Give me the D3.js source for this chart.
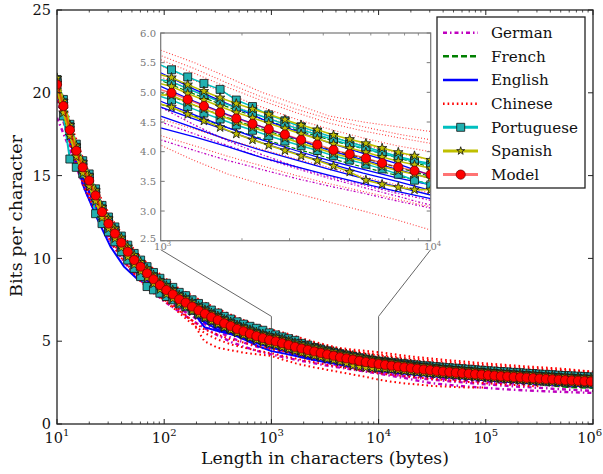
<!DOCTYPE html>
<html><head><meta charset="utf-8">
<script src="https://cdn.jsdelivr.net/npm/d3@7"></script>
<style>body{margin:0;background:#fff}svg{display:block}text{font-family:"DejaVu Serif",serif}</style>
</head><body><svg id="c" width="603" height="474"></svg>
<script>
// ---------------- DATA ----------------
const markerExp = [1.00,1.06,1.12,1.18,1.24,1.30,1.36,1.42,1.48,1.54,1.60,1.66,1.72,1.78,1.84,1.90,1.96,2.02,2.08,2.14,2.20,2.26,2.32,2.38,2.44,2.50,2.56,2.62,2.68,2.74,2.80,2.86,2.92,2.98,3.04,3.10,3.16,3.22,3.28,3.34,3.40,3.46,3.52,3.58,3.64,3.70,3.76,3.82,3.88,3.94,4.00,4.06,4.12,4.18,4.24,4.30,4.36,4.42,4.48,4.54,4.60,4.66,4.72,4.78,4.84,4.90,4.96,5.02,5.08,5.14,5.20,5.26,5.32,5.38,5.44,5.50,5.56,5.62,5.68,5.74,5.80,5.86,5.92,5.98];
const lineExp = [1,1.125,1.25,1.375,1.5,1.625,1.75,1.875,2,2.125,2.25,2.375,2.5,2.625,2.75,2.875,3,3.125,3.25,3.375,3.5,3.625,3.75,3.875,4,4.125,4.25,4.375,4.5,4.625,4.75,4.875,5,5.125,5.25,5.375,5.5,5.625,5.75,5.875,6];

const model = [20.5,19.2,17.75,16.5,15.5,14.7,13.8,12.8,12.1,11.5,10.95,10.4,9.9,9.5,9.1,8.74,8.39,8.09,7.83,7.53,7.33,7.09,6.86,6.66,6.46,6.28,6.08,5.92,5.74,5.6,5.45,5.31,5.19,5.07,4.99,4.88,4.77,4.66,4.56,4.47,4.38,4.29,4.2,4.12,4.03,3.96,3.89,3.81,3.74,3.68,3.62,3.57,3.52,3.47,3.42,3.38,3.33,3.29,3.25,3.21,3.17,3.14,3.1,3.07,3.04,3.01,2.98,2.95,2.92,2.89,2.87,2.84,2.82,2.79,2.77,2.74,2.72,2.7,2.67,2.65,2.63,2.61,2.59,2.57];

const portuguese = [
[20.8,19.6,18.1,16.9,15.9,15.1,14.2,13.2,12.5,11.9,11.35,10.8,10.3,9.9,9.5,9.15,8.8,8.5,8.25,7.95,7.75,7.5,7.28,7.08,6.88,6.7,6.5,6.34,6.17,6.03,5.9,5.78,5.66,5.5,5.38,5.26,5.15,5.05,4.87,4.76,4.62,4.52,4.42,4.33,4.24,4.16,4.08,4.0,3.92,3.85,3.8,3.76,3.72,3.68,3.64,3.6,3.56,3.52,3.5,3.46,3.43,3.4,3.37,3.34,3.31,3.28,3.25,3.22,3.2,3.17,3.15,3.12,3.1,3.07,3.05,3.02,3.0,2.98,2.95,2.93,2.91,2.89,2.87,2.85],
[20.7,19.4,17.95,16.7,15.7,14.9,14.0,13.0,12.3,11.7,11.1,10.55,10.05,9.65,9.25,8.9,8.55,8.25,8.0,7.7,7.5,7.25,7.02,6.82,6.62,6.44,6.24,6.08,5.9,5.76,5.61,5.47,5.35,5.23,5.18,5.06,4.95,4.84,4.74,4.65,4.56,4.46,4.37,4.29,4.2,4.12,4.05,3.97,3.9,3.84,3.77,3.71,3.66,3.61,3.56,3.51,3.46,3.42,3.38,3.34,3.3,3.27,3.23,3.2,3.17,3.14,3.11,3.08,3.05,3.02,3.0,2.97,2.95,2.92,2.9,2.87,2.85,2.83,2.8,2.78,2.76,2.74,2.72,2.7],
[20.6,18.6,16.0,15.5,15.1,14.6,12.7,12.1,11.6,11.0,10.4,9.9,9.4,8.9,8.3,8.1,7.9,7.7,7.5,7.25,7.08,6.86,6.65,6.46,6.27,6.1,5.91,5.76,5.59,5.46,5.32,5.19,5.08,4.96,4.87,4.76,4.65,4.55,4.45,4.36,4.27,4.18,4.1,4.02,3.93,3.86,3.79,3.71,3.62,3.52,3.44,3.42,3.38,3.34,3.3,3.26,3.22,3.18,3.15,3.11,3.08,3.05,3.02,2.99,2.96,2.93,2.9,2.88,2.85,2.82,2.8,2.78,2.75,2.73,2.71,2.68,2.66,2.64,2.62,2.6,2.58,2.56,2.54,2.52]
];
const spanish = [
[20.9,19.5,18.05,16.8,15.8,15.0,14.1,13.1,12.4,11.8,11.25,10.7,10.2,9.78,9.38,9.0,8.65,8.35,8.08,7.78,7.58,7.34,7.1,6.9,6.7,6.52,6.32,6.16,5.98,5.84,5.69,5.55,5.43,5.32,5.25,5.13,5.02,4.91,4.81,4.72,4.63,4.54,4.45,4.37,4.28,4.21,4.14,4.06,3.99,3.93,3.86,3.8,3.75,3.7,3.65,3.61,3.56,3.52,3.48,3.44,3.4,3.37,3.33,3.3,3.27,3.24,3.21,3.18,3.15,3.12,3.1,3.07,3.05,3.02,3.0,2.97,2.95,2.93,2.9,2.88,2.86,2.84,2.82,2.8],
[20.6,19.3,17.85,16.6,15.6,14.8,13.9,12.9,12.2,11.6,11.05,10.5,10.0,9.6,9.2,8.84,8.49,8.19,7.93,7.63,7.43,7.19,6.96,6.76,6.56,6.38,6.18,6.02,5.84,5.7,5.55,5.41,5.29,5.17,5.1,4.98,4.87,4.76,4.66,4.57,4.48,4.39,4.3,4.22,4.13,4.06,3.99,3.91,3.84,3.78,3.72,3.67,3.62,3.57,3.52,3.48,3.43,3.39,3.35,3.31,3.27,3.24,3.2,3.17,3.14,3.11,3.08,3.05,3.02,2.99,2.97,2.94,2.92,2.89,2.87,2.84,2.82,2.8,2.77,2.75,2.73,2.71,2.69,2.67],
[20.4,19.0,17.6,16.35,15.35,14.55,13.65,12.65,11.95,11.35,10.8,10.25,9.76,9.36,8.96,8.6,8.26,7.96,7.7,7.4,7.2,6.96,6.74,6.54,6.34,6.16,5.96,5.8,5.62,5.49,5.34,5.2,5.08,4.96,4.95,4.83,4.72,4.61,4.5,4.41,4.32,4.23,4.14,4.06,3.97,3.9,3.83,3.75,3.68,3.62,3.55,3.5,3.45,3.4,3.35,3.31,3.26,3.22,3.18,3.14,3.1,3.07,3.03,3.0,2.97,2.94,2.91,2.88,2.85,2.82,2.8,2.77,2.75,2.72,2.7,2.67,2.65,2.63,2.6,2.58,2.56,2.54,2.52,2.5],
[20.2,18.8,17.4,16.15,15.15,14.35,13.45,12.45,11.8,11.2,10.65,10.1,9.62,9.22,8.82,8.47,8.13,7.83,7.57,7.27,7.07,6.83,6.61,6.41,6.21,6.03,5.83,5.67,5.5,5.36,5.21,5.07,4.95,4.83,4.75,4.63,4.52,4.41,4.3,4.2,4.11,4.02,3.93,3.85,3.76,3.66,3.52,3.45,3.4,3.36,3.36,3.32,3.28,3.24,3.2,3.16,3.12,3.08,3.04,3.01,2.98,2.95,2.92,2.89,2.86,2.83,2.8,2.77,2.74,2.71,2.69,2.66,2.64,2.61,2.59,2.56,2.54,2.52,2.5,2.48,2.46,2.44,2.42,2.4]
];
const english = [
[20.7,17.9,15.6,13.8,12.1,10.9,9.9,9.07,8.38,7.8,7.32,6.88,6.48,6.1,5.78,5.5,5.33,5.05,4.8,4.55,4.35,4.15,3.97,3.8,3.6,3.49,3.38,3.29,3.2,3.12,3.05,2.98,2.91,2.85,2.79,2.73,2.68,2.63,2.58,2.54,2.5],
[20.3,17.3,15.0,13.2,11.6,10.4,9.45,8.65,8.0,7.43,6.97,6.52,6.12,5.76,5.45,5.2,5.1,4.85,4.62,4.42,4.22,4.02,3.86,3.7,3.55,3.44,3.34,3.25,3.16,3.08,3.01,2.94,2.87,2.81,2.75,2.69,2.64,2.59,2.54,2.49,2.45],
[20.4,17.0,14.3,12.4,10.7,9.5,8.75,8.45,7.95,7.35,6.9,6.45,6.05,5.65,5.35,5.05,4.85,4.62,4.4,4.2,4.02,3.85,3.7,3.56,3.44,3.33,3.23,3.14,3.06,2.98,2.91,2.85,2.78,2.72,2.66,2.6,2.55,2.5,2.45,2.4,2.35],
[20.5,17.5,15.2,13.4,11.8,10.55,9.6,8.78,8.1,7.5,6.95,5.85,5.62,5.42,5.2,4.95,4.75,4.55,4.35,4.15,3.97,3.8,3.64,3.5,3.35,3.25,3.16,3.08,3.0,2.93,2.86,2.8,2.74,2.68,2.62,2.57,2.52,2.47,2.42,2.37,2.33],
[20.3,17.2,14.9,13.1,11.5,10.3,9.35,8.6,7.95,7.4,6.85,6.15,5.7,5.45,5.2,4.85,4.6,4.4,4.2,4.02,3.86,3.7,3.55,3.41,3.27,3.17,3.08,3.0,2.92,2.85,2.79,2.73,2.67,2.61,2.55,2.5,2.45,2.4,2.36,2.32,2.28],
[20.1,17.0,14.7,12.9,11.3,10.1,9.2,8.45,7.8,7.25,6.75,6.3,5.85,5.45,5.1,4.7,4.4,4.25,4.08,3.9,3.75,3.6,3.46,3.33,3.21,3.12,3.04,2.96,2.89,2.82,2.76,2.7,2.64,2.58,2.53,2.48,2.43,2.38,2.34,2.3,2.26]
];
const chinese = [
[21.0,18.2,15.9,14.1,12.5,11.3,10.3,9.5,8.85,8.25,7.8,7.35,6.95,6.6,6.25,5.95,5.71,5.5,5.25,5.0,4.8,4.6,4.5,4.42,4.34,4.23,4.12,4.03,3.95,3.87,3.8,3.73,3.66,3.6,3.54,3.48,3.43,3.38,3.32,3.24,3.16],
[20.8,18.0,15.7,13.9,12.3,11.1,10.1,9.3,8.6,8.0,7.55,7.1,6.7,6.35,6.0,5.75,5.62,5.4,5.15,4.92,4.72,4.55,4.42,4.3,4.2,4.1,4.0,3.92,3.84,3.76,3.69,3.62,3.56,3.5,3.44,3.39,3.34,3.29,3.24,3.2,3.16],
[20.9,17.8,15.5,13.7,12.1,10.9,9.95,9.15,8.45,7.85,7.4,6.95,6.55,6.2,5.9,5.68,5.55,5.32,5.08,4.86,4.66,4.48,4.35,4.24,4.14,4.02,3.91,3.81,3.72,3.64,3.56,3.49,3.42,3.36,3.3,3.25,3.2,3.15,3.1,3.05,3.0],
[20.2,17.4,15.2,13.4,11.8,10.6,9.7,8.9,8.3,7.75,7.3,6.85,6.45,6.1,5.8,5.58,5.45,5.2,4.97,4.75,4.55,4.38,4.23,4.1,4.0,3.88,3.78,3.68,3.6,3.52,3.45,3.38,3.32,3.26,3.2,3.15,3.1,3.05,3.0,2.96,2.92],
[20.6,17.6,15.3,13.5,11.9,10.7,9.75,8.95,8.25,7.65,7.15,6.7,6.3,5.95,5.6,5.38,5.26,5.02,4.8,4.6,4.42,4.26,4.11,3.98,3.86,3.75,3.65,3.56,3.47,3.39,3.32,3.25,3.18,3.12,3.06,3.0,2.95,2.9,2.85,2.8,2.76],
[20.0,17.0,14.8,13.0,11.4,10.1,9.1,8.3,7.6,7.0,6.3,5.7,5.4,5.1,4.9,4.7,4.55,4.38,4.2,4.04,3.88,3.73,3.58,3.44,3.3,3.19,3.09,3.0,2.92,2.85,2.78,2.72,2.66,2.6,2.55,2.5,2.46,2.42,2.38,2.34,2.3],
[20.0,16.9,14.6,12.8,11.2,9.9,8.8,8.0,7.5,6.9,6.3,5.0,4.6,4.45,4.3,4.2,4.11,3.85,3.62,3.45,3.3,3.15,3.0,2.85,2.68,2.55,2.45,2.38,2.3,2.26,2.22,2.2,2.2,null,null,null,null,null,null,null,null],
[19.8,16.8,14.4,12.6,11.0,9.8,8.9,8.1,7.45,6.8,6.1,5.5,5.1,4.8,4.6,4.42,4.27,4.1,3.92,3.76,3.6,3.46,3.33,3.2,3.07,2.97,2.88,2.8,2.72,2.65,2.58,2.52,2.46,2.41,2.36,2.31,2.27,null,null,null,null]
];
const german = [
[20.2,17.2,14.9,13.1,11.5,10.3,9.35,8.55,7.9,7.3,6.8,6.3,5.85,5.45,5.1,4.9,4.75,4.45,4.18,3.95,3.75,3.58,3.44,3.3,3.18,3.06,2.95,2.86,2.78,2.71,2.65,2.59,2.54,2.49,2.44,2.4,2.36,2.32,2.28,2.24,2.2],
[19.6,16.8,14.5,12.8,11.2,10.0,9.05,8.3,7.6,7.05,6.55,6.05,5.6,5.2,4.9,4.65,4.5,4.3,4.1,3.9,3.72,3.55,3.4,3.25,3.1,2.98,2.87,2.77,2.68,2.6,2.53,2.46,2.4,2.34,2.28,2.23,2.18,2.13,2.08,2.04,2.0],
[18.5,16.5,14.3,12.5,11.0,9.8,8.85,8.1,7.4,6.85,6.3,5.8,5.35,4.95,4.65,4.4,4.2,4.02,3.85,3.7,3.55,3.42,3.3,3.17,3.05,2.9,2.77,2.6,2.46,2.38,2.3,2.24,2.18,2.12,2.07,2.03,1.99,1.96,1.93,1.9,1.88]
];
const french = [
[20.6,17.7,15.4,13.6,12.0,10.8,9.8,8.95,8.25,7.65,7.18,6.72,6.32,5.95,5.62,5.35,5.2,4.97,4.75,4.55,4.37,4.2,4.05,3.9,3.74,3.62,3.51,3.41,3.32,3.24,3.17,3.1,3.03,2.97,2.91,2.85,2.8,2.75,2.7,2.66,2.62],
[20.4,17.5,15.2,13.4,11.8,10.6,9.6,8.8,8.1,7.52,7.05,6.6,6.2,5.84,5.5,5.22,5.0,4.78,4.57,4.38,4.2,4.04,3.89,3.74,3.58,3.47,3.37,3.28,3.2,3.12,3.05,2.99,2.93,2.87,2.81,2.75,2.7,2.65,2.6,2.56,2.52],
[20.2,17.3,15.0,13.2,11.6,10.4,9.4,8.6,7.95,7.38,6.9,6.45,6.05,5.68,5.32,5.02,4.8,4.6,4.4,4.22,4.05,3.89,3.74,3.6,3.45,3.33,3.22,3.12,3.02,2.93,2.85,2.77,2.69,2.61,2.53,2.46,2.39,2.32,2.24,2.2,2.18]
];
const legendLabels = ["German","French","English","Chinese","Portuguese","Spanish","Model"];
const yTicks = [0,5,10,15,20,25];
const xTickExps = [1,2,3,4,5,6];
const insetYTicks = [2.5,3.0,3.5,4.0,4.5,5.0,5.5,6.0];
const insetXTickExps = [3,4];

// ---------------- STYLES ----------------
const ST = {
  German:{color:"#bf00bf",dash:"4,3,1.5,3",lw:2.4,idash:"2,2,1,2",ilw:1.3},
  French:{color:"#008000",dash:"6,3",lw:2,idash:"4,2",ilw:1.2},
  English:{color:"#0000ff",dash:null,lw:2,idash:null,ilw:1.3},
  Chinese:{color:"#ff0000",dash:"1.6,3",lw:2,idash:"1,2",ilw:1.1,iop:0.75},
  Portuguese:{color:"#00bfbf",lw:2,ilw:1.5,marker:d3.symbolSquare,size:64,face:"#22b0b0"},
  Spanish:{color:"#bfbf00",lw:2,ilw:1.6,marker:d3.symbolStar,size:28,face:"#bfbf00"},
  Model:{color:"#ff0000",op:0.55,lw:2,ilw:1.5,marker:d3.symbolCircle,size:66,face:"#ff0000",edge:"#7a0000"}
};
const SERIES = {German:german,French:french,English:english,Chinese:chinese,Portuguese:portuguese,Spanish:spanish,Model:[model]};
const GRID = {German:lineExp,French:lineExp,English:lineExp,Chinese:lineExp,Portuguese:markerExp,Spanish:markerExp,Model:markerExp};

// ---------------- SCALES ----------------
const L=57,R=593,T=10,B=424;
const x = d3.scaleLog().domain([10,1e6]).range([L,R]);
const y = d3.scaleLinear().domain([0,25]).range([B,T]);
const IL=160.7,IR=430.7,IT=33,IB=240.7;
const xi = d3.scaleLog().domain([1e3,1e4]).range([IL,IR]);
const yi = d3.scaleLinear().domain([2.5,6]).range([IB,IT]);

const svg = d3.select("#c");
const defs = svg.append("defs");
defs.append("clipPath").attr("id","cm").append("rect").attr("x",L).attr("y",T).attr("width",R-L).attr("height",B-T);
defs.append("clipPath").attr("id","ci").append("rect").attr("x",IL).attr("y",IT).attr("width",IR-IL).attr("height",IB-IT);

const conn = svg.append("g").attr("fill","none").attr("stroke","#666").attr("stroke-width",1);
conn.append("polyline").attr("points",[[IL,IB+9],[x(1e3),y(6.5)],[x(1e3),B]].join(" "));
conn.append("polyline").attr("points",[[IR,IB+9],[x(1e4),y(6.5)],[x(1e4),B]].join(" "));

function plot(g, lang, X, Y, inset){
  const st = ST[lang], grid = GRID[lang];
  SERIES[lang].forEach(vals=>{
    const pts = vals.map((v,i)=>[Math.pow(10,grid[i]),v]).filter(d=>d[1]!=null);
    const line = d3.line().x(d=>X(d[0])).y(d=>Y(d[1]));
    g.append("path").attr("d",line(pts)).attr("fill","none")
      .attr("stroke",st.color).attr("stroke-width",inset?st.ilw:st.lw)
      .attr("stroke-dasharray",inset?st.idash:st.dash)
      .attr("stroke-opacity",st.op!=null?st.op:(inset&&st.iop?st.iop:1));
    if(st.marker){
      const sym = d3.symbol().type(st.marker).size(st.size)();
      g.append("g").selectAll("path").data(pts).join("path")
        .attr("transform",d=>`translate(${X(d[0])},${Y(d[1])})`)
        .attr("d",sym).attr("fill",st.face).attr("stroke",st.edge||"#111").attr("stroke-width",0.8);
    }
  });
}

const gm = svg.append("g").attr("clip-path","url(#cm)");
legendLabels.forEach(l=>plot(gm,l,x,y,false));

const ax = svg.append("g").attr("stroke","#222");
ax.append("rect").attr("x",L).attr("y",T).attr("width",R-L).attr("height",B-T).attr("fill","none").attr("stroke-width",1.3);
yTicks.forEach(v=>{
  ax.append("line").attr("x1",L).attr("x2",L+5).attr("y1",y(v)).attr("y2",y(v));
  ax.append("line").attr("x1",R).attr("x2",R-5).attr("y1",y(v)).attr("y2",y(v));
});
xTickExps.forEach(e=>{
  const px=x(Math.pow(10,e));
  ax.append("line").attr("x1",px).attr("x2",px).attr("y1",B).attr("y2",B-5);
  ax.append("line").attr("x1",px).attr("x2",px).attr("y1",T).attr("y2",T+5);
  if(e<6) for(let m=2;m<10;m++){
    const pm=x(m*Math.pow(10,e));
    ax.append("line").attr("x1",pm).attr("x2",pm).attr("y1",B).attr("y2",B-2.5).attr("stroke-width",0.8);
    ax.append("line").attr("x1",pm).attr("x2",pm).attr("y1",T).attr("y2",T+2.5).attr("stroke-width",0.8);
  }
});
const tl = svg.append("g").attr("fill","#111");
yTicks.forEach(v=>{
  tl.append("text").attr("x",51).attr("y",y(v)).attr("dy","0.36em").attr("text-anchor","end").style("font-size","14.5px").text(v);
});
xTickExps.forEach(e=>{
  const px = x(Math.pow(10,e));
  const t=tl.append("text").attr("x",px).attr("y",443).attr("text-anchor","middle").style("font-size","14.5px");
  t.append("tspan").text("10");
  t.append("tspan").attr("dy",-7).style("font-size","10px").text(e);
  // keep the last label inside the picture
  const bb=t.node().getBBox();
  if(bb.x+bb.width>602) t.attr("x",px-(bb.x+bb.width-602));
});
function fit(sel,target,base){sel.style("font-size",base+"px");const w=sel.node().getComputedTextLength();sel.style("font-size",(base*target/w)+"px");}
fit(tl.append("text").attr("x",(L+R)/2).attr("y",464).attr("text-anchor","middle").text("Length in characters (bytes)"),248,16);
fit(tl.append("text").attr("transform","translate(21.5,216) rotate(-90)").attr("text-anchor","middle").text("Bits per character"),162,16);

svg.append("rect").attr("x",IL).attr("y",IT).attr("width",IR-IL).attr("height",IB-IT).attr("fill","#fff");
const gi = svg.append("g").attr("clip-path","url(#ci)");
legendLabels.forEach(l=>plot(gi,l,xi,yi,true));
const ia = svg.append("g").attr("stroke","#777");
ia.append("rect").attr("x",IL).attr("y",IT).attr("width",IR-IL).attr("height",IB-IT).attr("fill","none").attr("stroke-width",1.2);
insetYTicks.forEach(v=>{
  ia.append("line").attr("x1",IL).attr("x2",IL+4).attr("y1",yi(v)).attr("y2",yi(v));
  ia.append("line").attr("x1",IR).attr("x2",IR-4).attr("y1",yi(v)).attr("y2",yi(v));
});
for(let m=2;m<10;m++){
  const pm=xi(m*1e3);
  ia.append("line").attr("x1",pm).attr("x2",pm).attr("y1",IB).attr("y2",IB-2.5).attr("stroke-width",0.8);
  ia.append("line").attr("x1",pm).attr("x2",pm).attr("y1",IT).attr("y2",IT+2.5).attr("stroke-width",0.8);
}
const itl = svg.append("g").attr("fill","#777");
insetYTicks.forEach(v=>{
  itl.append("text").attr("x",156).attr("y",v===2.5?yi(v)-2:yi(v)).attr("dy","0.36em").attr("text-anchor","end").style("font-size","10px").text(v.toFixed(1));
});
insetXTickExps.forEach(e=>{
  const t=itl.append("text").attr("x",xi(Math.pow(10,e))+2).attr("y",250).attr("text-anchor","middle").style("font-size","10px");
  t.append("tspan").text("10");
  t.append("tspan").attr("dy",-4.5).style("font-size","7px").text(e);
});

const lg = svg.append("g");
lg.append("rect").attr("x",437).attr("y",17).attr("width",148).attr("height",171).attr("fill","#fff").attr("stroke","#222").attr("stroke-width",1.3);
legendLabels.forEach((lab,i)=>{
  const st=ST[lab], cy=32.7+i*23.65;
  lg.append("line").attr("x1",443).attr("x2",478).attr("y1",cy).attr("y2",cy)
    .attr("stroke",st.color).attr("stroke-width",st.marker?3:2.5).attr("stroke-dasharray",st.dash||null)
    .attr("stroke-opacity",st.op!=null?st.op:1);
  if(st.marker){
    lg.append("path").attr("transform",`translate(460.7,${cy})`).attr("d",d3.symbol().type(st.marker).size(lab==="Spanish"?20:st.size)())
      .attr("fill",st.face).attr("stroke",st.edge||"#111").attr("stroke-width",0.8);
  }
  lg.append("text").attr("class","lt").attr("x",491).attr("y",cy).attr("dy","0.36em").text(lab);
});
const probe = lg.selectAll(".lt").filter(function(){return d3.select(this).text()==="Portuguese";});
probe.style("font-size","16px");
const fs = 16*87/probe.node().getComputedTextLength();
lg.selectAll(".lt").style("font-size",fs+"px").attr("fill","#111");
</script></body></html>
